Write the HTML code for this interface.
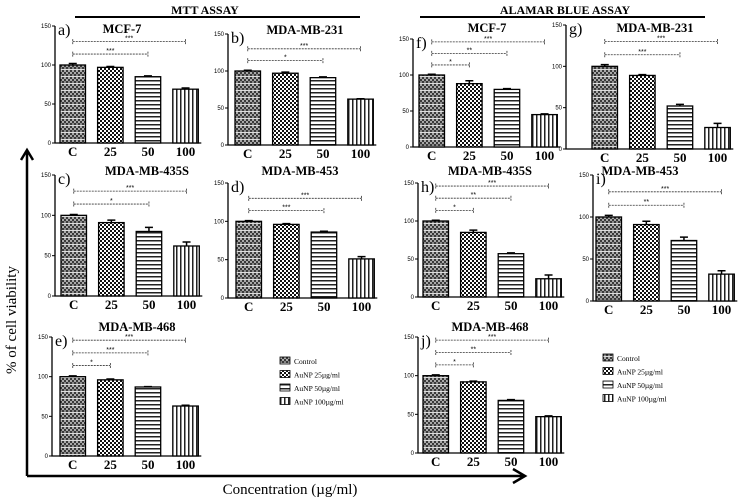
<!DOCTYPE html>
<html><head><meta charset="utf-8"><style>
html,body{margin:0;padding:0;background:#fff;}
svg{display:block;font-family:"Liberation Serif",serif;}
</style></head><body>
<svg id="fig" width="742" height="499" viewBox="0 0 742 499" xmlns="http://www.w3.org/2000/svg">
<defs>
<pattern id="pC" width="4" height="7" patternUnits="userSpaceOnUse">
<rect width="4" height="7" fill="#3a3a3a"/><rect x="0" y="0" width="2" height="2" fill="#aaa"/><rect x="2" y="2" width="2" height="2" fill="#aaa"/><rect x="0" y="4" width="2" height="2" fill="#888"/><rect x="0" y="6" width="4" height="1" fill="#ddd"/>
</pattern>
<pattern id="p25" width="4" height="4" patternUnits="userSpaceOnUse">
<rect width="4" height="4" fill="#fff"/><rect width="2" height="2" fill="#111"/><rect x="2" y="2" width="2" height="2" fill="#111"/>
</pattern>
<pattern id="p50" width="4" height="4" patternUnits="userSpaceOnUse">
<rect width="4" height="4" fill="#fff"/><rect width="4" height="1.5" fill="#222"/>
</pattern>
<pattern id="p100" width="4" height="4" patternUnits="userSpaceOnUse">
<rect width="4" height="4" fill="#fff"/><rect width="1.5" height="4" fill="#222"/>
</pattern>
</defs>
<g id="static">
<text x="205" y="14" text-anchor="middle" font-size="12" font-weight="bold">MTT ASSAY</text>
<line x1="75" y1="17" x2="360" y2="17" stroke="#000" stroke-width="2"/>
<text x="565" y="14" text-anchor="middle" font-size="12" font-weight="bold">ALAMAR BLUE ASSAY</text>
<line x1="420" y1="17" x2="705" y2="17" stroke="#000" stroke-width="2"/>
<path d="M27 476 V152 M21 160 L27 150 L33 160" fill="none" stroke="#000" stroke-width="2.5"/>
<path d="M27 476 H523 M513 469 L525 476 L513 483" fill="none" stroke="#000" stroke-width="2.5"/>
<text transform="translate(16,320) rotate(-90)" text-anchor="middle" font-size="15">% of cell viability</text>
<text x="290" y="494" text-anchor="middle" font-size="15">Concentration (µg/ml)</text>
</g>
<g id="panels"></g>
</svg>
<script>
const categories = ['C', '25', '50', '100'];
const legendLabels = ['Control', 'AuNP 25µg/ml', 'AuNP 50µg/ml', 'AuNP 100µg/ml'];
const yTicks = [0, 50, 100, 150];
const panelTitles = ['MCF-7', 'MDA-MB-231', 'MDA-MB-435S', 'MDA-MB-453', 'MDA-MB-468', 'MCF-7', 'MDA-MB-231', 'MDA-MB-435S', 'MDA-MB-453', 'MDA-MB-468'];
const panelLetters = ['a)', 'b)', 'c)', 'd)', 'e)', 'f)', 'g)', 'h)', 'i)', 'j)'];
const valuesA = [100, 97, 85, 69];
const valuesB = [100, 97, 91, 62];
const valuesC = [100, 91, 80, 62];
const valuesD = [100, 96, 86, 51];
const valuesE = [100, 96, 87, 63];
const valuesF = [100, 88, 80, 45];
const valuesG = [100, 89, 52, 26];
const valuesH = [100, 85, 57, 24];
const valuesI = [100, 91, 72, 32];
const valuesJ = [100, 92, 68, 47];
const errorsA = [2, 1, 1, 1.5];
const errorsB = [1, 1.5, 1, 0.5];
const errorsC = [1, 3, 5, 5];
const errorsD = [1, 1, 1, 3];
const errorsE = [1, 1, 0.5, 1];
const errorsF = [1, 4, 1, 1];
const errorsG = [2, 1, 2, 5];
const errorsH = [1, 3, 1, 5];
const errorsI = [2, 4, 4, 4];
const errorsJ = [1, 1, 1, 1];
const sigTargetsA = [3, 2]; const sigStarsA = ['***', '***'];
const sigTargetsB = [3, 2]; const sigStarsB = ['***', '*'];
const sigTargetsC = [3, 2]; const sigStarsC = ['***', '*'];
const sigTargetsD = [3, 2]; const sigStarsD = ['***', '***'];
const sigTargetsE = [3, 2, 1]; const sigStarsE = ['***', '***', '*'];
const sigTargetsF = [3, 2, 1]; const sigStarsF = ['***', '**', '*'];
const sigTargetsG = [3, 2]; const sigStarsG = ['***', '***'];
const sigTargetsH = [3, 2, 1]; const sigStarsH = ['***', '**', '*'];
const sigTargetsI = [3, 2]; const sigStarsI = ['***', '**'];
const sigTargetsJ = [3, 2, 1]; const sigStarsJ = ['***', '**', '*'];

const allValues = [valuesA, valuesB, valuesC, valuesD, valuesE, valuesF, valuesG, valuesH, valuesI, valuesJ];
const allErrors = [errorsA, errorsB, errorsC, errorsD, errorsE, errorsF, errorsG, errorsH, errorsI, errorsJ];
const allSigT = [sigTargetsA, sigTargetsB, sigTargetsC, sigTargetsD, sigTargetsE, sigTargetsF, sigTargetsG, sigTargetsH, sigTargetsI, sigTargetsJ];
const allSigS = [sigStarsA, sigStarsB, sigStarsC, sigStarsD, sigStarsE, sigStarsF, sigStarsG, sigStarsH, sigStarsI, sigStarsJ];
const layout = [
  [55, 26, 143, 60, 122, 33], [228, 34, 145, 235, 305, 34],
  [55, 175, 296, 61, 147, 175], [228, 183, 298, 236, 300, 175],
  [52, 337, 456, 60, 137, 331], [413, 39, 147, 419, 487, 32],
  [566, 25, 149, 592, 655, 32], [418, 183, 297, 423, 490, 175],
  [593, 175, 301, 596, 640, 175], [418, 337, 453, 423, 490, 331]
];
const patterns = ['url(#pC)', 'url(#p25)', 'url(#p50)', 'url(#p100)'];
const NS = 'http://www.w3.org/2000/svg';
const root = document.getElementById('panels');
function mk(tag, attrs, parent) {
  const e = document.createElementNS(NS, tag);
  for (const k in attrs) e.setAttribute(k, attrs[k]);
  parent.appendChild(e); return e;
}
layout.forEach((L, p) => {
  const [ax, yTop, yBase, bx0, tx, ty] = L;
  const y = v => yBase - (yBase - yTop) * v / 150;
  const bw = 25.5, step = 37.6;
  const xb = i => bx0 + i * step;
  const g = mk('g', {}, root);
  
  
  const right = xb(3) + bw + 3;
  const axis = mk('path', { d: `M${ax} ${yTop} V${yBase} H${right}`, fill: 'none', stroke: '#000', 'stroke-width': 1.3 }, g);
  
  
  yTicks.forEach(t => {
    mk('line', { x1: ax - 3, x2: ax, y1: y(t), y2: y(t), stroke: '#000' }, g);
    const tl = mk('text', { x: ax - 4, y: y(t) + 2, 'text-anchor': 'end', 'font-size': 6, 'font-family': 'Liberation Sans,sans-serif' }, g);
    tl.textContent = t;
    
    
  });
  const vals = allValues[p], errs = allErrors[p];
  vals.forEach((v, i) => {
    const r = mk('rect', { x: xb(i), y: y(v), width: bw, height: yBase - y(v), fill: patterns[i], stroke: '#000', 'stroke-width': 1.3 }, g);
    
    
    const cx = xb(i) + bw / 2;
    const eb = mk('path', { d: `M${cx} ${y(v)} V${y(v + errs[i])} M${cx - 4} ${y(v + errs[i])} H${cx + 4}`, stroke: '#000', 'stroke-width': 1.5, fill: 'none' }, g);
    
    
    const cl = mk('text', { x: cx, y: yBase + 13, 'text-anchor': 'middle', 'font-size': 13, 'font-weight': 'bold' }, g);
    cl.textContent = categories[i];
    
    
  });
  const sT = allSigT[p], sS = allSigS[p];
  const topLevel = 114 + 16 * (sT.length - 1);
  sT.forEach((tgt, k) => {
    const ly = y(topLevel - k * 16);
    const x1 = xb(0) + bw / 2, x2 = xb(tgt) + bw / 2;
    const sl = mk('path', { d: `M${x1} ${ly - 2.5} V${ly + 2.5} M${x1} ${ly} H${x2} M${x2} ${ly - 2.5} V${ly + 2.5}`, stroke: '#333', 'stroke-width': 0.8, 'stroke-dasharray': '2 1', fill: 'none' }, g);
    
    
    const st = mk('text', { x: (x1 + x2) / 2, y: ly - 1, 'text-anchor': 'middle', 'font-size': 7, 'font-family': 'Liberation Sans,sans-serif' }, g);
    st.textContent = sS[k];
    
    
  });
  const lt = mk('text', { x: ax + 3, y: yTop + 9, 'font-size': 16 }, g);
  lt.textContent = panelLetters[p];
  
  
  const tt = mk('text', { x: tx, y: ty, 'text-anchor': 'middle', 'font-size': 12.5, 'font-weight': 'bold' }, g);
  tt.textContent = panelTitles[p];
  
  
});
[[280, 361], [603, 358]].forEach(([lx, ly]) => {
  const g = mk('g', {}, root);
  
  
  legendLabels.forEach((lab, i) => {
    const yy = ly + i * 13.5;
    const sw = mk('rect', { x: lx, y: yy - 4, width: 10, height: 7, fill: patterns[i], stroke: '#000', 'stroke-width': 0.8 }, g);
    
    
    const t = mk('text', { x: lx + 14, y: yy + 3, 'font-size': 7.5 }, g);
    t.textContent = lab;
    
    
  });
});
</script>
</body></html>
